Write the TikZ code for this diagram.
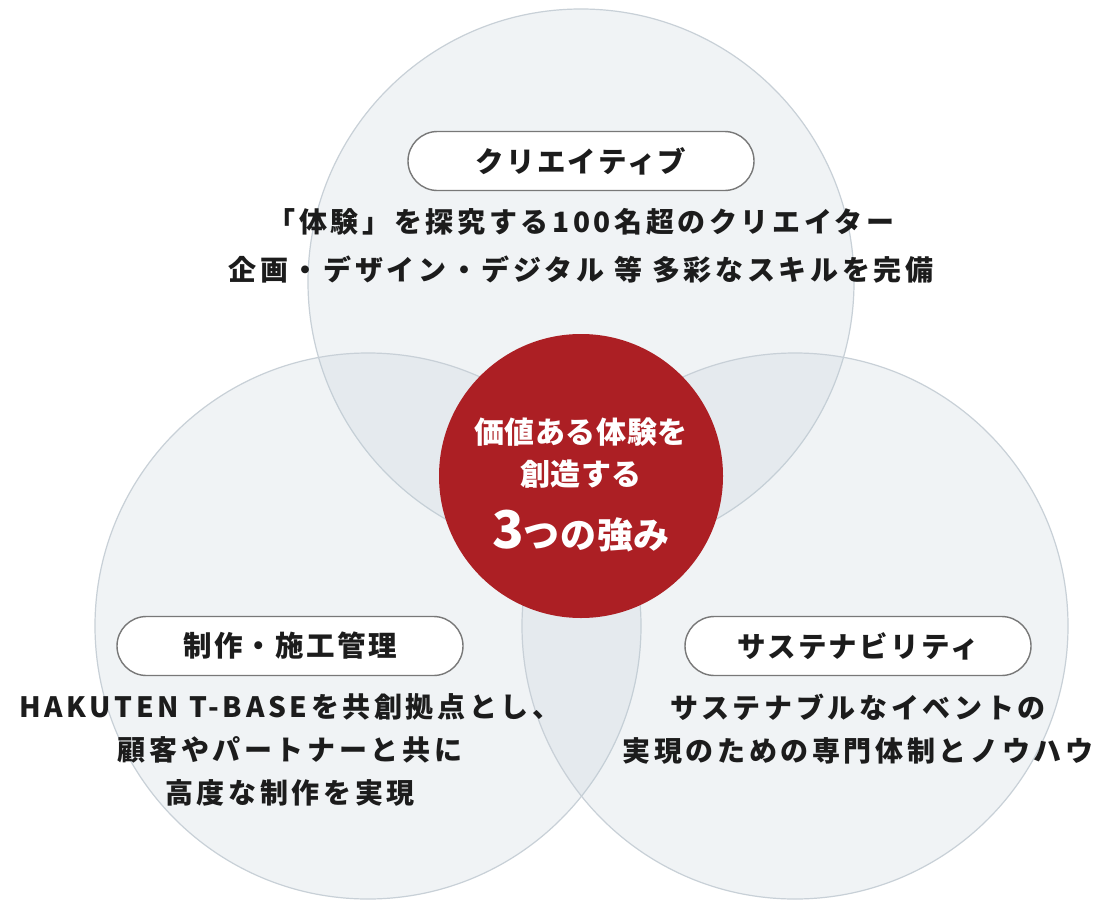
\documentclass[tikz,border=0pt]{standalone}
\usepackage{fontspec}
\setmainfont{Noto Sans CJK JP}
\definecolor{vennfill}{RGB}{190,204,214}
\definecolor{vennline}{RGB}{200,208,215}
\definecolor{accent}{RGB}{172,31,36}
\definecolor{ink}{RGB}{28,28,28}
\definecolor{pillline}{RGB}{120,120,120}
\begin{document}
\begin{tikzpicture}[x=1pt,y=-1pt,
  venn/.style={circle, minimum size=546pt, inner sep=0pt, outer sep=0pt,
    draw=vennline, line width=1.2pt, fill=vennfill, fill opacity=0.22},
  core/.style={circle, minimum size=284pt, inner sep=0pt, fill=accent},
  pill/.style={draw=pillline, line width=1.4pt, fill=white, rounded corners=29.5pt,
    minimum width=346pt, minimum height=59pt, inner sep=0pt, text=ink,
    font=\fontsize{28.5}{30}\selectfont\bfseries\addfontfeature{LetterSpace=8}},
  body/.style={align=center, text=ink, inner sep=0pt,
    font=\fontsize{28}{43}\selectfont\bfseries\addfontfeature{LetterSpace=13}},
  coretext/.style={align=center, text=white, inner sep=0pt},
]
\useasboundingbox (0,0) rectangle (1099,899);
\fill[white] (0,0) rectangle (1099,899);
\node[venn] (ctop) at (581,282) {};
\node[venn] (cleft) at (368,626) {};
\node[venn] (cright) at (795,626) {};
\node[core] (center) at (581,476) {};
\node[coretext, font=\fontsize{30}{42}\selectfont\bfseries\addfontfeature{LetterSpace=2}] (ct1) at (581,453) {価値ある体験を\\創造する};
\node[coretext, font=\fontsize{36}{40}\selectfont\bfseries\addfontfeature{LetterSpace=2}, anchor=base] (ct2) at (581,548) {{\fontsize{52}{54}\selectfont 3}つの強み};
\node[pill] (ptop) at (581,161) {クリエイティブ};
\node[pill] (pleft) at (290,646) {制作・施工管理};
\node[pill] (pright) at (858,646) {サステナビリティ};
\node[body, font=\fontsize{28}{48}\selectfont\bfseries\addfontfeature{LetterSpace=13}] (ttop) at (581,246) {「体験」を探究する100名超のクリエイター\\企画・デザイン・デジタル 等 多彩なスキルを完備};
\node[body] (tleft) at (290,750) {HAKUTEN T-BASEを共創拠点とし、\\顧客やパートナーと共に\\高度な制作を実現};
\node[body] (tright) at (858,729) {サステナブルなイベントの\\実現のための専門体制とノウハウ};
\end{tikzpicture}
\end{document}
